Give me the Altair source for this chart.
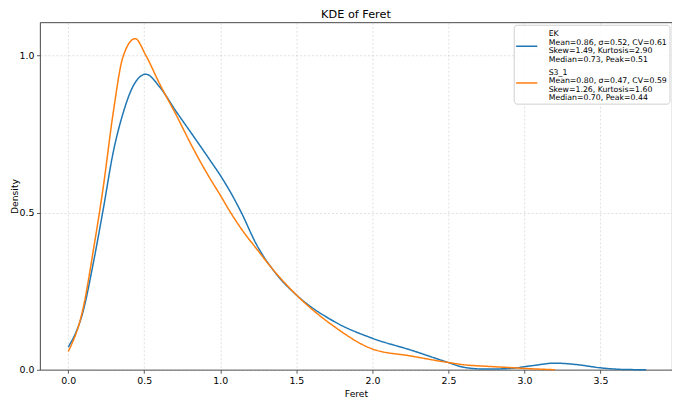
import altair as alt
import pandas as pd

# ---- data ----
series_names = ["EK", "S3_1"]
colors = ["#1f77b4", "#ff7f0e"]

ek_x = [0.0, 0.1, 0.165, 0.23, 0.295, 0.36, 0.43, 0.51, 0.60, 0.71, 0.82, 0.93, 1.0,
        1.07, 1.138, 1.236, 1.367, 1.5, 1.75, 2.0, 2.25, 2.5, 2.6, 2.75, 2.9, 3.05, 3.2,
        3.35, 3.5, 3.65, 3.8]
ek_y = [0.072, 0.19, 0.34, 0.51, 0.69, 0.815, 0.905, 0.94, 0.90, 0.821, 0.745, 0.668, 0.618,
        0.562, 0.50, 0.40, 0.305, 0.238, 0.153, 0.10, 0.063, 0.023, 0.008, 0.002, 0.004,
        0.013, 0.021, 0.016, 0.006, 0.001, 0.0]

s3_x = [0.0, 0.1, 0.165, 0.23, 0.295, 0.36, 0.44, 0.51, 0.60, 0.71, 0.82, 0.93, 1.0,
        1.061, 1.15, 1.236, 1.367, 1.5, 1.75, 2.0, 2.25, 2.5, 2.6, 2.75, 2.9, 3.05, 3.2]
s3_y = [0.058, 0.20, 0.38, 0.58, 0.815, 0.995, 1.053, 1.0, 0.91, 0.81, 0.705, 0.61, 0.555,
        0.505, 0.44, 0.386, 0.307, 0.238, 0.137, 0.066, 0.044, 0.023, 0.016, 0.011, 0.007,
        0.003, 0.0]

ek_stats = ["Mean=0.86, σ=0.52, CV=0.61", "Skew=1.49, Kurtosis=2.90", "Median=0.73, Peak=0.51"]
s3_stats = ["Mean=0.80, σ=0.47, CV=0.59", "Skew=1.26, Kurtosis=1.60", "Median=0.70, Peak=0.44"]

x_ticks = [0.0, 0.5, 1.0, 1.5, 2.0, 2.5, 3.0, 3.5]
y_ticks = [0.0, 0.5, 1.0]

# ---- table ----
ek_text = "\n".join([series_names[0]] + ek_stats)
s3_text = "\n".join([series_names[1]] + s3_stats)
legend_texts = [ek_text, s3_text]

rows = []
for xv, yv in zip(ek_x, ek_y):
    rows.append({"x": xv, "density": yv, "series": series_names[0], "stats": ek_text})
for xv, yv in zip(s3_x, s3_y):
    rows.append({"x": xv, "density": yv, "series": series_names[1], "stats": s3_text})
df = pd.DataFrame(rows)

FONT = "DejaVu Sans"

# legend showing the coloured line symbols (no text)
symbol_legend = alt.Legend(
    title=None, orient="none", legendX=476, legendY=12.5, zindex=3,
    labelExpr="''", labelOffset=0, labelFontSize=1,
    symbolType="stroke", symbolSize=450, symbolStrokeWidth=1.5,
    padding=0, rowPadding=21.8,
)

# legend holding the multi-line text and the frame
text_legend = alt.Legend(
    title=None, orient="none", legendX=474.5, legendY=2.5, zindex=2,
    labelExpr="split(datum.label, '\\n')", labelFont=FONT, labelFontSize=7.8,
    labelColor="black", labelBaseline="top", labelLimit=400, labelOffset=25.7,
    symbolType="stroke", symbolSize=1, symbolOpacity=0, symbolStrokeWidth=1.5,
    padding=1.5, cornerRadius=3, strokeColor="#d0d0d0",
    fillColor="rgba(255,255,255,0.85)", rowPadding=0.5,
)

chart = alt.Chart(df).mark_line(strokeWidth=1.5, interpolate="monotone").encode(
    x=alt.X("x:Q",
            scale=alt.Scale(domain=[-0.186, 3.97], nice=False, zero=False),
            axis=alt.Axis(title="Feret", values=x_ticks, format=".1f",
                          labelPadding=3, titlePadding=4.5)),
    y=alt.Y("density:Q",
            scale=alt.Scale(domain=[0, 1.105], nice=False),
            axis=alt.Axis(title="Density", values=y_ticks, format=".1f",
                          labelPadding=2.5, titlePadding=0)),
    color=alt.Color("series:N",
                    scale=alt.Scale(domain=series_names, range=colors),
                    legend=symbol_legend),
    strokeDash=alt.StrokeDash("stats:N",
                              scale=alt.Scale(domain=legend_texts, range=[[1, 0], [1, 0]]),
                              legend=text_legend),
).properties(
    width=633,
    height=348,
    autosize=alt.AutoSizeParams(type="none"),
    padding={"left": 32, "top": 14, "right": 0, "bottom": 33},
    title=alt.TitleParams("KDE of Feret", font=FONT, fontSize=11.3,
                          fontWeight="normal", color="black", offset=2),
).configure(
    style={"guide-label": {"lineHeight": 8.5}}
).configure_view(
    stroke="#333333", strokeWidth=0.9
).configure_axis(
    domain=False,
    labelFont=FONT, labelFontSize=9.4, labelColor="black",
    titleFont=FONT, titleFontSize=9.2, titleFontWeight="normal", titleColor="black",
    tickColor="#333333", tickSize=3.5, tickWidth=0.8,
    grid=True, gridColor="#b0b0b0", gridDash=[2, 2], gridWidth=0.5, gridOpacity=0.8,
)

chart.save("out.html", embed_options={"renderer": "svg", "actions": False})
